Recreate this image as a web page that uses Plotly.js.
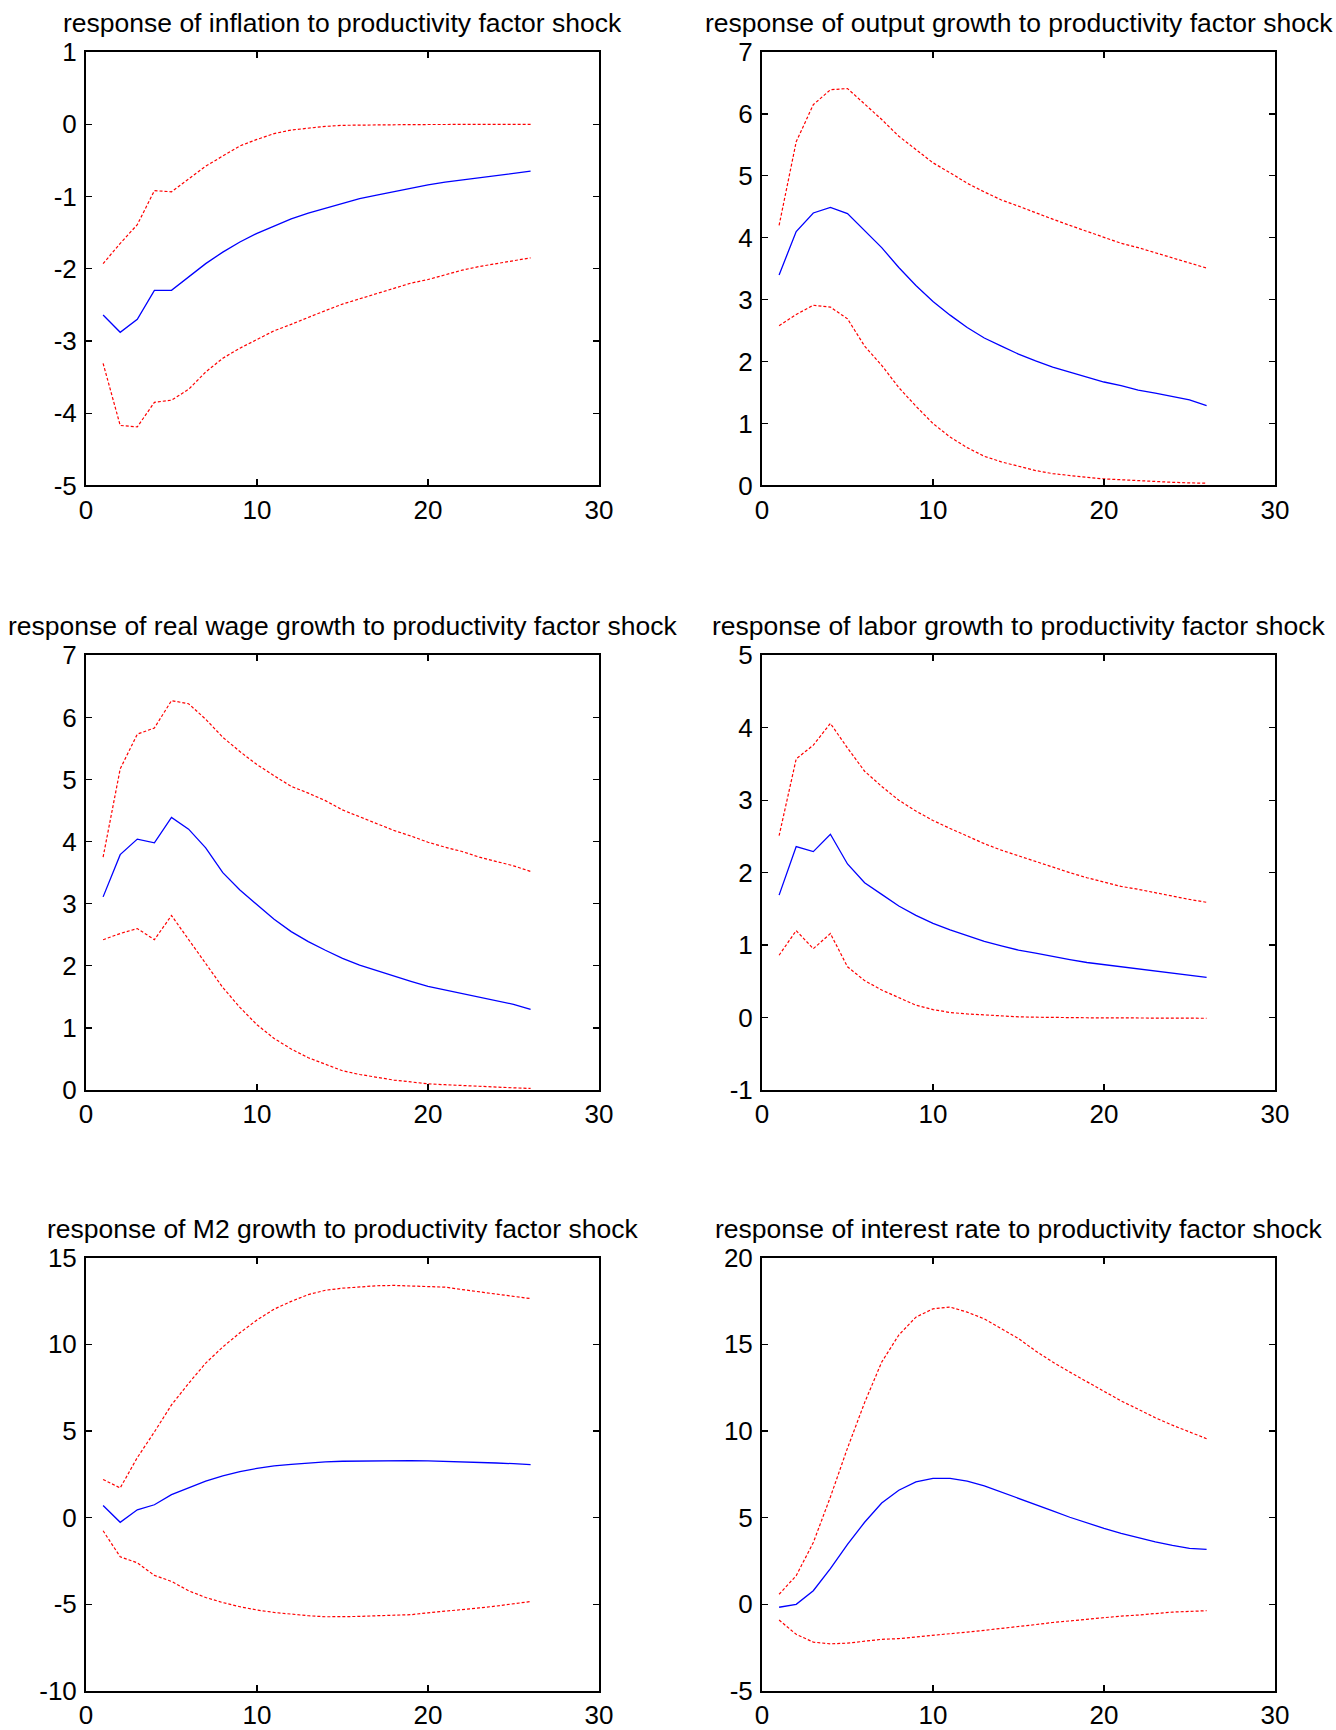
<!DOCTYPE html>
<html>
<head>
<meta charset="utf-8">
<script src="https://cdn.plot.ly/plotly-3.0.1.min.js"></script>
<style>html,body{margin:0;padding:0;background:#fff;}#chart{width:1336px;height:1730px;}</style>
</head>
<body>
<div id="chart"></div>
<script>
// ---- data ----
var periods = [1,2,3,4,5,6,7,8,9,10,11,12,13,14,15,16,17,18,19,20,21,22,23,24,25,26];

var titles = [
  "response of inflation to productivity factor shock",
  "response of output growth to productivity factor shock",
  "response of real wage growth to productivity factor shock",
  "response of labor growth to productivity factor shock",
  "response of M2 growth to productivity factor shock",
  "response of interest rate to productivity factor shock"
];

var inflationMid = [-2.64,-2.88,-2.70,-2.30,-2.30,-2.12,-1.93,-1.77,-1.63,-1.51,-1.41,-1.31,-1.23,-1.16,-1.09,-1.03,-0.98,-0.93,-0.88,-0.84,-0.80,-0.77,-0.74,-0.71,-0.68,-0.65];
var inflationUp  = [-1.93,-1.65,-1.39,-0.92,-0.935,-0.76,-0.58,-0.44,-0.30,-0.21,-0.13,-0.08,-0.05,-0.03,-0.015,-0.01,-0.008,-0.006,-0.005,-0.004,-0.003,-0.002,-0.002,-0.001,-0.001,-0.001];
var inflationLo  = [-3.31,-4.17,-4.19,-3.85,-3.82,-3.67,-3.43,-3.24,-3.10,-2.98,-2.86,-2.77,-2.67,-2.58,-2.49,-2.42,-2.35,-2.28,-2.20,-2.15,-2.08,-2.02,-1.97,-1.93,-1.90,-1.85];

var outputMid = [3.40,4.10,4.40,4.49,4.39,4.12,3.84,3.52,3.23,2.97,2.75,2.55,2.38,2.25,2.12,2.01,1.91,1.83,1.75,1.67,1.61,1.54,1.49,1.43,1.38,1.29];
var outputUp  = [4.20,5.55,6.15,6.39,6.41,6.16,5.91,5.64,5.42,5.21,5.05,4.88,4.74,4.61,4.51,4.40,4.30,4.20,4.10,4.00,3.91,3.84,3.76,3.67,3.59,3.51];
var outputLo  = [2.58,2.76,2.91,2.88,2.69,2.25,1.94,1.58,1.28,1.00,0.78,0.61,0.47,0.38,0.31,0.24,0.19,0.155,0.13,0.105,0.09,0.072,0.06,0.05,0.04,0.035];

var wageMid = [3.11,3.79,4.04,3.98,4.39,4.20,3.90,3.50,3.22,2.98,2.75,2.55,2.39,2.25,2.12,2.01,1.92,1.83,1.75,1.67,1.61,1.55,1.49,1.43,1.38,1.30];
var wageUp  = [3.75,5.17,5.73,5.83,6.27,6.22,5.97,5.68,5.45,5.24,5.06,4.89,4.78,4.66,4.51,4.40,4.29,4.18,4.09,3.99,3.91,3.84,3.75,3.68,3.61,3.52];
var wageLo  = [2.42,2.52,2.60,2.42,2.81,2.42,2.04,1.65,1.33,1.05,0.83,0.66,0.52,0.41,0.31,0.25,0.20,0.16,0.13,0.10,0.085,0.07,0.055,0.045,0.035,0.025];

var laborMid = [1.69,2.36,2.29,2.53,2.12,1.86,1.70,1.54,1.41,1.30,1.21,1.13,1.05,0.99,0.93,0.89,0.84,0.80,0.76,0.73,0.70,0.67,0.64,0.61,0.59,0.555];
var laborUp  = [2.51,3.57,3.76,4.06,3.72,3.40,3.19,3.00,2.85,2.72,2.61,2.50,2.40,2.31,2.23,2.15,2.07,2.00,1.93,1.87,1.81,1.77,1.72,1.68,1.63,1.59];
var laborLo  = [0.86,1.20,0.95,1.16,0.70,0.51,0.38,0.27,0.17,0.11,0.07,0.05,0.035,0.02,0.01,0.005,0.0,-0.002,-0.003,-0.004,-0.005,-0.006,-0.007,-0.008,-0.009,-0.01];

var m2Mid = [0.70,-0.27,0.45,0.74,1.32,1.71,2.10,2.41,2.65,2.84,2.98,3.07,3.15,3.21,3.25,3.27,3.29,3.29,3.29,3.27,3.25,3.23,3.19,3.15,3.11,3.05];
var m2Up  = [2.20,1.71,3.46,4.94,6.50,7.74,8.91,9.84,10.66,11.40,12.02,12.47,12.86,13.11,13.23,13.31,13.37,13.39,13.35,13.31,13.29,13.15,13.02,12.92,12.78,12.63];
var m2Lo  = [-0.76,-2.26,-2.61,-3.33,-3.68,-4.22,-4.61,-4.90,-5.14,-5.33,-5.47,-5.58,-5.66,-5.72,-5.72,-5.70,-5.66,-5.64,-5.60,-5.49,-5.41,-5.33,-5.21,-5.10,-4.98,-4.84];

var rateMid = [-0.17,0.0,0.78,2.06,3.46,4.73,5.84,6.58,7.06,7.26,7.26,7.10,6.83,6.48,6.13,5.76,5.39,5.02,4.69,4.38,4.09,3.83,3.60,3.40,3.23,3.17];
var rateUp  = [0.58,1.65,3.56,6.19,9.01,11.63,13.97,15.53,16.56,17.04,17.14,16.85,16.46,15.91,15.33,14.61,13.97,13.39,12.84,12.28,11.73,11.25,10.76,10.33,9.92,9.55];
var rateLo  = [-0.91,-1.73,-2.18,-2.28,-2.24,-2.14,-2.02,-1.98,-1.89,-1.79,-1.73,-1.60,-1.50,-1.40,-1.27,-1.17,-1.05,-0.95,-0.88,-0.78,-0.68,-0.62,-0.53,-0.45,-0.41,-0.37];

var xTicks = [0,10,20,30];
var yTicks = [
  [-5,-4,-3,-2,-1,0,1],
  [0,1,2,3,4,5,6,7],
  [0,1,2,3,4,5,6,7],
  [-1,0,1,2,3,4,5],
  [-10,-5,0,5,10,15],
  [-5,0,5,10,15,20]
];

// ---- build ----
var panels = [
  [inflationMid, inflationUp, inflationLo],
  [outputMid, outputUp, outputLo],
  [wageMid, wageUp, wageLo],
  [laborMid, laborUp, laborLo],
  [m2Mid, m2Up, m2Lo],
  [rateMid, rateUp, rateLo]
];

var W = 1336, H = 1730;
var colPx = [[86, 599], [762, 1275]];
var rowPx = [[52, 485.4], [655.3, 1090], [1257.5, 1691]];

var FONT = "Liberation Sans, Arial, Helvetica, sans-serif";
var traces = [];
var layout = {
  width: W, height: H,
  margin: {l:0, r:0, t:0, b:0},
  paper_bgcolor: "#fff", plot_bgcolor: "#fff",
  showlegend: false,
  font: {family: FONT, size: 26, color: "#000"},
  annotations: []
};

function labels(v) { return v.map(function(t){ return String(t); }); }

panels.forEach(function(p, i) {
  var col = i % 2, row = Math.floor(i / 2);
  var n = i + 1;
  var xa = n === 1 ? "x" : "x" + n;
  var ya = n === 1 ? "y" : "y" + n;
  var xk = n === 1 ? "xaxis" : "xaxis" + n;
  var yk = n === 1 ? "yaxis" : "yaxis" + n;

  traces.push({x: periods, y: p[1], xaxis: xa, yaxis: ya, mode: "lines",
    line: {color: "#ff0000", width: 1.2, dash: "3px,2px"}, hoverinfo: "skip"});
  traces.push({x: periods, y: p[2], xaxis: xa, yaxis: ya, mode: "lines",
    line: {color: "#ff0000", width: 1.2, dash: "3px,2px"}, hoverinfo: "skip"});
  traces.push({x: periods, y: p[0], xaxis: xa, yaxis: ya, mode: "lines",
    line: {color: "#0000ff", width: 1.3}, hoverinfo: "skip"});

  var yt = yTicks[i];
  var common = {
    showgrid: false, zeroline: false, showline: true, linecolor: "#000", linewidth: 2,
    mirror: "ticks", ticks: "inside", ticklen: 6, tickwidth: 1.2, tickcolor: "#000",
    tickfont: {family: FONT, size: 26, color: "#000"}, fixedrange: true
  };
  layout[xk] = Object.assign({}, common, {
    domain: [colPx[col][0] / W, colPx[col][1] / W],
    range: [xTicks[0], xTicks[xTicks.length - 1]],
    tickmode: "array", tickvals: xTicks, ticktext: labels(xTicks),
    anchor: ya, ticklabelstandoff: 0
  });
  layout[yk] = Object.assign({}, common, {
    domain: [1 - rowPx[row][1] / H, 1 - rowPx[row][0] / H],
    range: [yt[0], yt[yt.length - 1]],
    tickmode: "array", tickvals: yt, ticktext: labels(yt),
    anchor: xa, ticklabelstandoff: 2
  });

  layout.annotations.push({
    text: titles[i], xref: "paper", yref: "paper",
    x: (colPx[col][0] + colPx[col][1]) / 2 / W,
    y: 1 - (rowPx[row][0] - 29) / H,
    xanchor: "center", yanchor: "middle", showarrow: false,
    font: {family: FONT, size: 26.5, color: "#000"}
  });
});

Plotly.newPlot("chart", traces, layout, {staticPlot: true, displayModeBar: false});
</script>
</body>
</html>
